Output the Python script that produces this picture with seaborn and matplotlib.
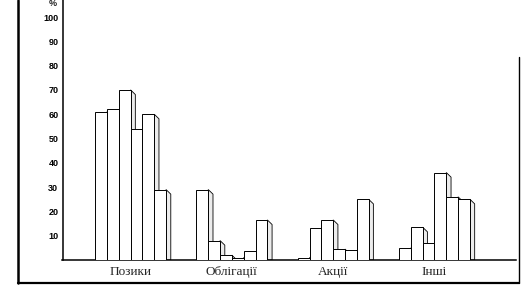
import matplotlib
matplotlib.use("Agg")
import matplotlib.pyplot as plt
from matplotlib.patches import Polygon
from matplotlib.lines import Line2D
import seaborn as sns
import pandas as pd

categories = ["Позики", "Облігації", "Акції", "Інші"]
series = ["1", "2", "3", "4", "5", "6"]
s1 = [61, 29, 1, 5]
s2 = [62, 8, 13, 13.5]
s3 = [70, 2, 16.5, 7]
s4 = [54, 1, 4.5, 36]
s5 = [60, 3.5, 4, 26]
s6 = [29, 16.5, 25, 25]
yticks = [10, 20, 30, 40, 50, 60, 70, 80, 90, 100]

rows = []
for name, vals in zip(series, [s1, s2, s3, s4, s5, s6]):
    for c, v in zip(categories, vals):
        rows.append({"cat": c, "ser": name, "val": v})
df = pd.DataFrame(rows)

sns.set_style("white")
plt.rcParams["font.family"] = ["Liberation Sans", "DejaVu Sans"]

W, H = 522, 286
fig = plt.figure(figsize=(W / 100, H / 100), dpi=100)
ax = fig.add_axes([62.5 / W, 26 / H, (516 - 62.5) / W, 1 - 26 / H])

sns.barplot(data=df, x="cat", y="val", hue="ser", order=categories,
            hue_order=series, palette=["white"] * 6, width=0.7,
            edgecolor="black", linewidth=0.7, legend=False, ax=ax, zorder=3)

# side faces (pseudo-3D) derived from the drawn bars
d, drop = 0.047, 1.9
bars = list(ax.patches)
for p in bars:
    x0, w, h = p.get_x(), p.get_width(), p.get_height()
    xr = x0 + w
    poly = Polygon([(xr, 0), (xr, h), (xr + d, max(h - drop, 0)), (xr + d, 0)],
                   closed=True, facecolor="#ececec", edgecolor="black",
                   linewidth=0.6, zorder=2)
    ax.add_patch(poly)

ax.set_xlim(-0.672, 3.805)
ax.set_ylim(0, 107)
ax.set_yticks(yticks)
ax.set_yticklabels([str(t) for t in yticks], fontsize=6.5, fontweight="bold")
ax.tick_params(axis="y", direction="in", length=5, width=0.9, pad=3, colors="black")
ax.tick_params(axis="x", length=0, pad=4)
for lab in ax.get_xticklabels():
    lab.set_fontfamily(["Liberation Serif", "DejaVu Serif"])
    lab.set_fontsize(9.5)
ax.set_xlabel("")
ax.set_ylabel("")
for s in ["top", "right"]:
    ax.spines[s].set_visible(False)
ax.spines["left"].set_linewidth(1.1)
ax.spines["bottom"].set_linewidth(1.1)
ax.spines["left"].set_color("black")
ax.spines["bottom"].set_color("black")
ax.text(-0.022, 105.6, "%", transform=ax.get_yaxis_transform(), fontsize=6.5,
        fontweight="bold", ha="center", va="center", clip_on=False)

# outer frame of the scanned figure
fig.add_artist(Line2D([18 / W, 18 / W], [1, 1 - 283 / H], color="black", linewidth=1.8))
fig.add_artist(Line2D([18 / W, 519 / W], [1 - 283 / H, 1 - 283 / H], color="black", linewidth=1.6))
fig.add_artist(Line2D([519 / W, 519 / W], [1 - 57 / H, 1 - 283 / H], color="black", linewidth=1.0))

fig.savefig("out.png", dpi=100, facecolor="white")
